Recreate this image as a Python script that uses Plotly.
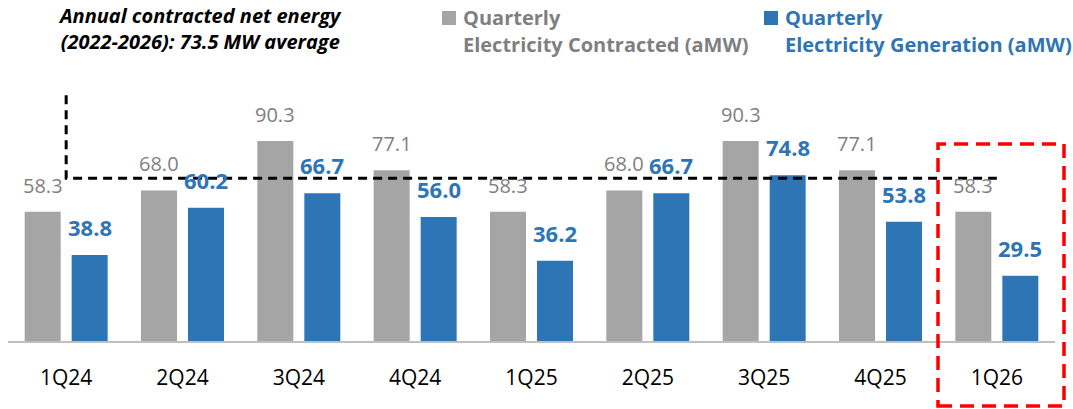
import plotly.graph_objects as go

# ---------------- data ----------------
quarters = ["1Q24", "2Q24", "3Q24", "4Q24", "1Q25", "2Q25", "3Q25", "4Q25", "1Q26"]
contracted = [58.3, 68.0, 90.3, 77.1, 58.3, 68.0, 90.3, 77.1, 58.3]
generation = [38.8, 60.2, 66.7, 56.0, 36.2, 66.7, 74.8, 53.8, 29.5]
avg_contracted = 73.5
avg_bracket_top = 111.0
highlight_quarter = "1Q26"
title_lines = ["Annual contracted net energy", "(2022-2026): 73.5 MW average"]
legend_contracted = ["Quarterly", "Electricity Contracted (aMW)"]
legend_generation = ["Quarterly", "Electricity Generation (aMW)"]

# ---------------- style ----------------
GRAY = "#A5A5A5"
BLUE = "#2E75B6"
GRAY_TXT = "#7F7F7F"
FONT = "Open Sans"

W, H = 1073, 409
L, R, T, B = 8, 1055, 80, 341
PX_PER_UNIT = 2.215
Y_MAX = (B - T) / PX_PER_UNIT
OFF = 0.202  # group offset of each bar within category


def px_x(px):
    return (px - L) / (R - L)


def px_y(py):
    return (B - py) / (B - T)


fig = go.Figure()
fig.add_bar(x=quarters, y=contracted, marker=dict(color=GRAY, line=dict(width=0)),
            name=" ".join(legend_contracted), showlegend=False, hoverinfo="x+y")
fig.add_bar(x=quarters, y=generation, marker=dict(color=BLUE, line=dict(width=0)),
            name=" ".join(legend_generation), showlegend=False, hoverinfo="x+y")
fig.add_scatter(x=[quarters[0], quarters[0], highlight_quarter],
                y=[avg_bracket_top, avg_contracted, avg_contracted],
                mode="lines", line=dict(color="black", width=3, dash="9px,6px"),
                showlegend=False, hoverinfo="skip")

ann = []
for i, v in enumerate(contracted):
    ann.append(dict(x=i - OFF, y=v, xref="x", yref="y", text=f"{v:.1f}", showarrow=False,
                    yanchor="bottom", xanchor="center", yshift=11,
                    font=dict(family=FONT, size=20, color=GRAY_TXT)))
for i, v in enumerate(generation):
    ann.append(dict(x=i + OFF, y=v, xref="x", yref="y", text=f"<b>{v:.1f}</b>", showarrow=False,
                    yanchor="bottom", xanchor="center", yshift=11,
                    font=dict(family=FONT, size=22, color=BLUE)))

# title
ann.append(dict(x=px_x(200), y=px_y(28.5), xref="paper", yref="paper",
                text="<br>".join(f"<b><i>{t}</i></b>" for t in title_lines),
                showarrow=False, xanchor="center", yanchor="middle", align="center",
                font=dict(family=FONT, size=20, color="black")))
# legend text
for lines, xpx, col in [(legend_contracted, 461, GRAY_TXT), (legend_generation, 783, BLUE)]:
    for line, py in zip(lines, [17.5, 45]):
        ann.append(dict(x=px_x(xpx), y=px_y(py), xref="paper", yref="paper", text=f"<b>{line}</b>",
                        showarrow=False, xanchor="left", yanchor="middle",
                        font=dict(family=FONT, size=20, color=col)))

shapes = [
    dict(type="rect", xref="paper", yref="paper", x0=px_x(442), x1=px_x(456), y0=px_y(25), y1=px_y(11),
         fillcolor=GRAY, line=dict(width=0)),
    dict(type="rect", xref="paper", yref="paper", x0=px_x(764), x1=px_x(778), y0=px_y(25), y1=px_y(11),
         fillcolor=BLUE, line=dict(width=0)),
    dict(type="rect", xref="paper", yref="paper", x0=px_x(938), x1=px_x(1064), y0=px_y(406), y1=px_y(144),
         line=dict(color="#FF0000", width=3.5, dash="14px,8px"), fillcolor="rgba(0,0,0,0)"),
]

fig.update_layout(
    width=W, height=H, autosize=False,
    margin=dict(l=L, r=W - R, t=T, b=H - B, pad=0),
    plot_bgcolor="white", paper_bgcolor="white",
    barmode="group", bargap=0.192, bargroupgap=0.234,
    annotations=ann, shapes=shapes,
    font=dict(family=FONT),
    xaxis=dict(showline=True, linecolor="#BFBFBF", linewidth=1.5, ticks="", showgrid=False,
               zeroline=False, tickfont=dict(family=FONT, size=21, color="black"),
               ticklabelstandoff=17),
    yaxis=dict(visible=False, range=[0, Y_MAX], showgrid=False, zeroline=False),
)

fig.write_html("out.html", config={"displayModeBar": False},
               post_script="document.body.style.margin='0';document.body.style.overflow='hidden';")
